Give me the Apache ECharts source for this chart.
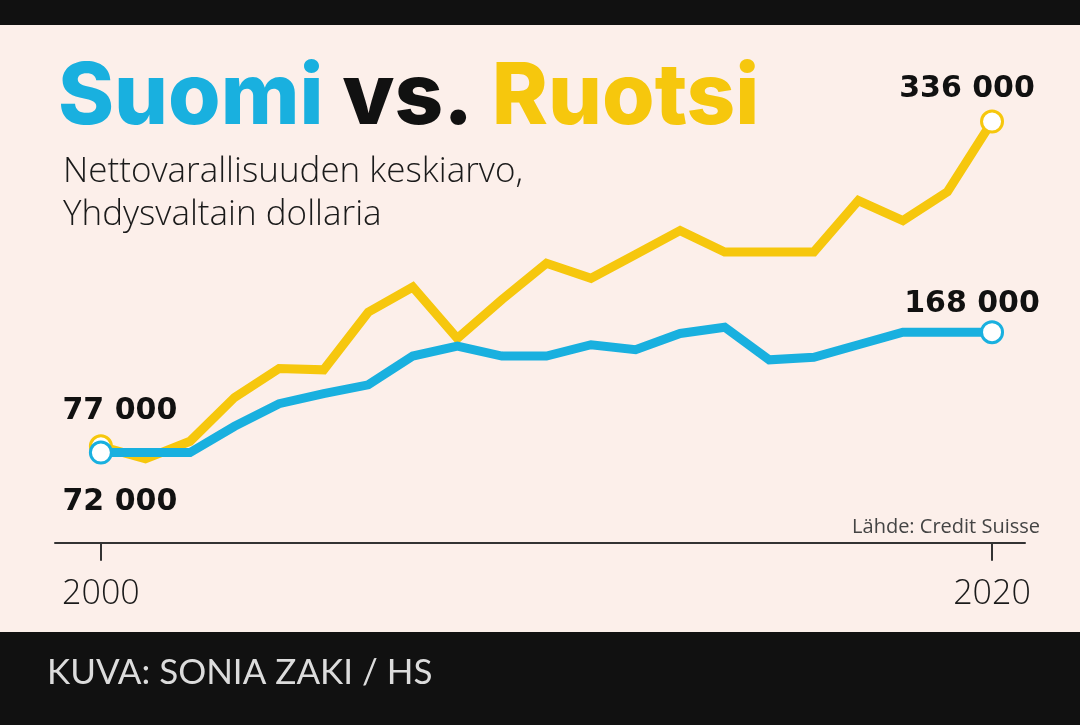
<!DOCTYPE html>
<html>
<head>
<meta charset="utf-8">
<script src="https://cdn.jsdelivr.net/npm/echarts@6/dist/echarts.min.js"></script>
<style>
html,body{margin:0;padding:0;background:#111;}
#chart{width:1080px;height:725px;}
</style>
</head>
<body>
<div id="chart"></div>
<script>
const years = [2000,2001,2002,2003,2004,2005,2006,2007,2008,2009,2010,2011,2012,2013,2014,2015,2016,2017,2018,2019,2020];
const ruotsi = [77000,67000,81000,116000,139000,138000,184000,204000,163000,194000,223000,211000,230000,249000,232000,232000,232000,273000,257000,280000,336000];
const suomi = [72000,72000,72000,93000,111000,119000,126000,149000,157000,149000,149000,158000,154000,167000,172000,146000,148000,158000,168000,168000,168000];
const tickYears = [2000, 2020];

const BLUE = '#19b0df';
const YELLOW = '#f6c70d';
const fmt = v => String(v).replace(/\B(?=(\d{3})+(?!\d))/g, ' ');

function buildData(vals, color, startOffset, endOffset) {
  return years.map((y, i) => {
    const item = { value: [y, vals[i]] };
    if (i === 0 || i === years.length - 1) {
      item.symbol = 'circle';
      item.symbolSize = 21;
      item.itemStyle = { color: '#ffffff', borderColor: color, borderWidth: 3 };
      item.label = {
        show: true,
        position: 'inside',
        offset: i === 0 ? startOffset : endOffset,
        formatter: p => fmt(p.value[1]),
        fontFamily: 'DejaVu Sans',
        fontWeight: 'bold',
        fontSize: 30,
        color: '#111'
      };
    }
    return item;
  });
}

const titleFont = { fontFamily: 'Inter', fontWeight: 800, fontSize: 85, lineHeight: 94 };

const chart = echarts.init(document.getElementById('chart'), null, { renderer: 'canvas' });
chart.setOption({
  backgroundColor: '#fcefea',
  animation: false,
  title: [
    {
      left: 53, top: 46,
      text: '{s|Suomi }{v|vs. }{r|Ruotsi}',
      textStyle: {
        rich: {
          s: Object.assign({ color: BLUE }, titleFont),
          v: Object.assign({ color: '#111' }, titleFont),
          r: Object.assign({ color: YELLOW }, titleFont)
        }
      }
    },
    {
      left: 58, top: 146,
      text: 'Nettovarallisuuden keskiarvo,\nYhdysvaltain dollaria',
      textStyle: { fontFamily: 'Open Sans', fontWeight: 300, fontSize: 35, lineHeight: 43, color: '#1a1a1a' }
    }
  ],
  grid: { left: 55, right: 55, top: 104, bottom: 179, containLabel: false },
  xAxis: {
    type: 'value',
    min: 1998.97,
    max: 2020.74,
    splitLine: { show: false },
    axisLine: { show: true, lineStyle: { color: '#333', width: 2 } },
    axisTick: { show: true, customValues: tickYears, length: 18, lineStyle: { color: '#333', width: 2 } },
    axisLabel: {
      customValues: tickYears,
      formatter: v => String(v),
      fontFamily: 'Open Sans',
      fontWeight: 300,
      fontSize: 34,
      color: '#1a1a1a',
      margin: 31
    }
  },
  yAxis: {
    type: 'value',
    min: -2500,
    max: 350000,
    show: false,
    splitLine: { show: false }
  },
  series: [
    {
      name: 'Ruotsi',
      type: 'line',
      symbol: 'none',
      showSymbol: true,
      showAllSymbol: true,
      lineStyle: { color: YELLOW, width: 9, join: 'miter' },
      itemStyle: { color: YELLOW },
      data: buildData(ruotsi, YELLOW, [19, -35], [-25, -32]),
      z: 2
    },
    {
      name: 'Suomi',
      type: 'line',
      symbol: 'none',
      showSymbol: true,
      showAllSymbol: true,
      lineStyle: { color: BLUE, width: 9, join: 'miter' },
      itemStyle: { color: BLUE },
      data: buildData(suomi, BLUE, [19, 50], [-20, -28]),
      z: 3
    }
  ],
  graphic: [
    { type: 'rect', left: 0, top: 0, shape: { width: 1080, height: 25 }, style: { fill: '#111' }, z: 10 },
    { type: 'rect', left: 0, top: 632, shape: { width: 1080, height: 93 }, style: { fill: '#111' }, z: 10 },
    { type: 'text', left: 47, top: 655, style: { text: 'KUVA: SONIA ZAKI / HS', fill: '#dcdcdc', font: '35px Lato' }, z: 11 },
    { type: 'text', right: 40, top: 517, style: { text: 'Lähde: Credit Suisse', fill: '#444', font: '20px "Open Sans"' }, z: 11 }
  ]
});
</script>
</body>
</html>
